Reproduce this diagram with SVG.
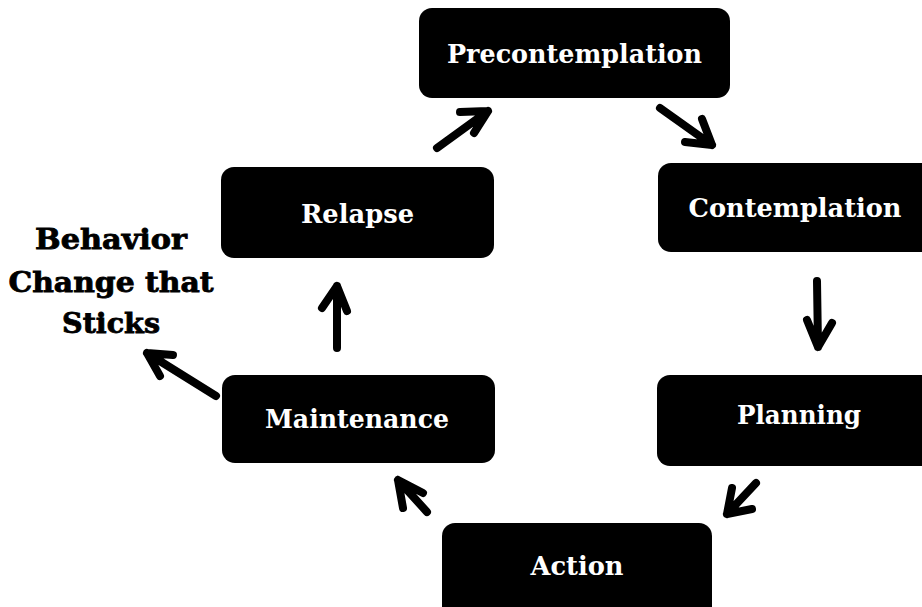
<svg xmlns="http://www.w3.org/2000/svg" width="922" height="607" viewBox="0 0 922 607">
<style>
.box{fill:#000;}
.lbl{font-family:"DejaVu Serif","Liberation Serif",serif;font-weight:bold;font-size:26px;fill:#fff;text-anchor:middle;}
.side{font-family:"DejaVu Serif","Liberation Serif",serif;font-weight:900;font-size:27px;fill:#000;text-anchor:middle;stroke:#000;stroke-width:0.8;}
.arr{fill:none;stroke:#000;stroke-width:8;stroke-linecap:round;stroke-linejoin:round;}
</style>
<rect width="922" height="607" fill="#fff"/>
<g id="precontemplation"><rect class="box" x="419" y="8" width="311" height="90" rx="13"/><text class="lbl" x="574.5" y="63" textLength="255" lengthAdjust="spacingAndGlyphs">Precontemplation</text></g>
<g id="contemplation"><rect class="box" x="658" y="163" width="280" height="89" rx="13"/><text class="lbl" x="795" y="217" textLength="213" lengthAdjust="spacingAndGlyphs">Contemplation</text></g>
<g id="planning"><rect class="box" x="657" y="375" width="280" height="91" rx="13"/><text class="lbl" x="799" y="424" textLength="124" lengthAdjust="spacingAndGlyphs">Planning</text></g>
<g id="action"><rect class="box" x="442" y="523" width="270" height="100" rx="13"/><text class="lbl" x="577" y="575" textLength="93" lengthAdjust="spacingAndGlyphs">Action</text></g>
<g id="maintenance"><rect class="box" x="222" y="375" width="273" height="88" rx="13"/><text class="lbl" x="357" y="428" textLength="184" lengthAdjust="spacingAndGlyphs">Maintenance</text></g>
<g id="relapse"><rect class="box" x="221" y="167" width="273" height="91" rx="13"/><text class="lbl" x="357.5" y="223" textLength="113" lengthAdjust="spacingAndGlyphs">Relapse</text></g>
<g id="behavior"><text class="side"><tspan x="111" y="249" textLength="152" lengthAdjust="spacingAndGlyphs">Behavior</tspan></text><text class="side"><tspan x="111" y="292" textLength="205" lengthAdjust="spacingAndGlyphs">Change that</tspan></text><text class="side"><tspan x="111" y="333" textLength="98" lengthAdjust="spacingAndGlyphs">Sticks</tspan></text></g>
<g id="connectors">
<path class="arr" d="M437,148 L488,111 M460,112 L488,111 L474,133"/>
<path class="arr" d="M660,108 L712,145 M702,119 L712,145 L685,142"/>
<path class="arr" d="M817,281 L818,347 M807,320 L818,347 L832,323"/>
<path class="arr" d="M756,483 L727,514 M732,488 L727,514 L752,509"/>
<path class="arr" d="M427,512 L398,480 M423,493 L398,480 L403,508"/>
<path class="arr" d="M337,348 L337,286 M322,308 L337,286 L347,311"/>
<path class="arr" d="M216,396 L147,353 M173,355 L147,353 L160,376"/>
</g>
</svg>
